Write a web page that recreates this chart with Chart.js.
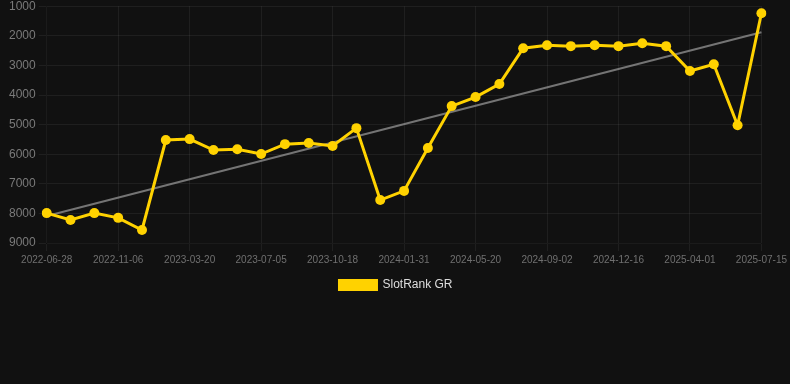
<!DOCTYPE html>
<html>
<head>
<meta charset="utf-8">
<script src="https://cdn.jsdelivr.net/npm/chart.js@4"></script>
<style>
  html, body { margin: 0; padding: 0; background: #111111; overflow: hidden; }
  #wrap { width: 790px; height: 305px; position: relative; margin-top: -4px; }
</style>
</head>
<body>
<div id="wrap"><canvas id="rankChart"></canvas></div>
<script>
// 날짜 (x축)
const labels = [
  '2022-06-28', '2022-08-10', '2022-09-23', '2022-11-06', '2022-12-20', '2023-02-02',
  '2023-03-20', '2023-04-25', '2023-05-30', '2023-07-05', '2023-08-09', '2023-09-13',
  '2023-10-18', '2023-11-22', '2023-12-27', '2024-01-31', '2024-03-07', '2024-04-13',
  '2024-05-20', '2024-06-24', '2024-07-29', '2024-09-02', '2024-10-07', '2024-11-11',
  '2024-12-16', '2025-01-20', '2025-02-24', '2025-04-01', '2025-05-06', '2025-06-10',
  '2025-07-15'
];

// 순위 값
const rankValues = [
  7990, 8220, 7990, 8150, 8560, 5520,
  5490, 5860, 5830, 5995, 5660, 5620,
  5720, 5120, 7550, 7240, 5790, 4375,
  4070, 3630, 2420, 2320, 2350, 2320,
  2350, 2250, 2350, 3190, 2960, 5020,
  1240
];

// 추세선 (시작/끝)
const trendStart = 8090;
const trendEnd = 1880;
const trendValues = labels.map((_, i) => i === 0 ? trendStart : (i === labels.length - 1 ? trendEnd : null));

const yellow = '#FFD200';

new Chart(document.getElementById('rankChart').getContext('2d'), {
  type: 'line',
  data: {
    labels: labels,
    datasets: [{
      label: 'SlotRank GR',
      data: rankValues,
      borderColor: yellow,
      backgroundColor: yellow,
      borderWidth: 3,
      pointRadius: 5,
      pointHoverRadius: 5,
      pointBorderWidth: 0,
      pointBackgroundColor: yellow,
      tension: 0
    }, {
      label: 'trend',
      data: trendValues,
      spanGaps: true,
      borderColor: 'rgba(150,150,150,0.75)',
      borderWidth: 2,
      pointRadius: 0,
      fill: false
    }]
  },
  options: {
    responsive: true,
    maintainAspectRatio: false,
    animation: false,
    layout: { padding: { left: 6, right: 4 } },
    scales: {
      x: {
        grid: { color: 'rgba(255,255,255,0.06)' },
        ticks: {
          color: '#707070',
          font: { size: 10, family: 'Arial, Liberation Sans, sans-serif' },
          autoSkip: true,
          maxTicksLimit: 11,
          maxRotation: 0
        }
      },
      y: {
        reverse: true,
        min: 1000,
        max: 9000,
        grid: { color: 'rgba(255,255,255,0.06)' },
        ticks: {
          stepSize: 1000,
          color: '#7a7a7a',
          font: { size: 12, family: 'Arial, Liberation Sans, sans-serif' },
          callback: v => String(v)
        }
      }
    },
    plugins: {
      legend: {
        position: 'bottom',
        labels: {
          color: '#dddddd',
          boxWidth: 37,
          boxHeight: 9,
          font: { size: 12, family: 'Arial, Liberation Sans, sans-serif' },
          filter: item => item.text !== 'trend'
        }
      },
      tooltip: { enabled: false }
    }
  }
});
</script>
</body>
</html>
